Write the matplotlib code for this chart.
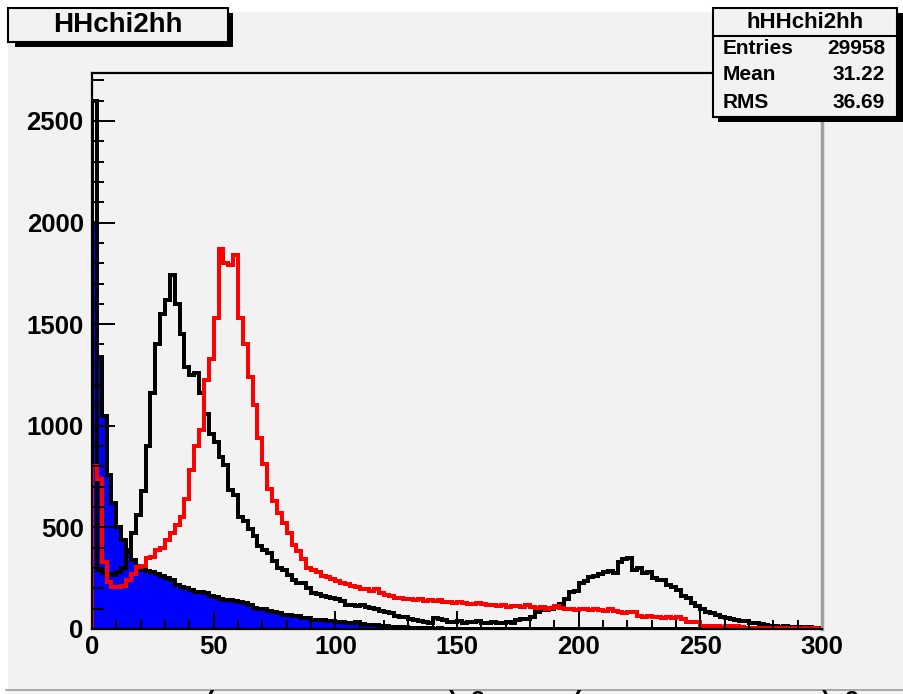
import numpy as np
import matplotlib.pyplot as plt
from matplotlib.patches import Rectangle
from matplotlib.lines import Line2D
from matplotlib.ticker import MultipleLocator

plt.rcParams['font.family'] = ['Liberation Sans', 'DejaVu Sans']
plt.rcParams['font.weight'] = 'bold'

# chi2 histograms, 2-unit bins from 0 to 300
bin_edges = np.arange(0, 301, 2)

hh_blue = [
    2000, 1340, 1050, 760, 620, 500, 440, 380, 340, 310,
    290, 285, 280, 270, 260, 250, 240, 215, 205, 200,
    190, 182, 180, 175, 160, 158, 150, 145, 142, 140,
    135, 128, 120, 105, 100, 100, 88, 84, 80, 70,
    68, 65, 62, 55, 52, 45, 45, 42, 40, 38,
    35, 35, 30, 28, 32, 25, 22, 20, 18, 15,
    14, 12, 10, 8, 10, 6, 5, 4, 5, 3,
    2, 3, 2, 1, 1, 0, 1, 0, 0, 0,
    0, 0, 1, 0, 0, 0, 0, 0, 0, 0,
    0, 0, 0, 0, 0, 0, 0, 0, 0, 0,
    0, 0, 0, 0, 0, 0, 0, 0, 0, 0,
    0, 0, 0, 0, 0, 0, 0, 0, 0, 0,
    0, 0, 0, 0, 0, 0, 0, 0, 0, 0,
    0, 0, 0, 0, 0, 0, 0, 0, 0, 0,
    0, 0, 0, 0, 0, 0, 0, 0, 0, 0,
]

hh_black = [
    2600, 290, 275, 270, 265, 280, 300, 390, 470, 560,
    680, 900, 1160, 1400, 1550, 1620, 1740, 1600, 1450, 1290,
    1250, 1260, 1160, 1060, 960, 920, 846, 807, 684, 660,
    551, 530, 490, 460, 410, 389, 375, 335, 300, 290,
    265, 240, 226, 224, 200, 177, 170, 160, 157, 155,
    150, 140, 120, 118, 115, 118, 110, 103, 100, 88,
    84, 80, 62, 60, 58, 50, 45, 38, 32, 30,
    55, 50, 45, 35, 32, 38, 30, 35, 32, 40,
    30, 28, 35, 30, 30, 32, 28, 45, 50, 48,
    60, 82, 92, 95, 100, 110, 125, 150, 180, 185,
    225, 235, 255, 260, 270, 280, 285, 275, 330, 345,
    350, 290, 300, 275, 280, 250, 240, 240, 215, 205,
    190, 160, 155, 130, 115, 100, 85, 80, 70, 60,
    55, 50, 45, 40, 38, 30, 28, 25, 20, 15,
    15, 12, 15, 10, 12, 8, 5, 8, 4, 5,
]

hh_red = [
    800, 740, 330, 230, 205, 205, 210, 240, 270, 305,
    310, 350, 355, 390, 400, 440, 470, 510, 550, 640,
    780, 900, 980, 1225, 1330, 1530, 1870, 1800, 1790, 1840,
    1530, 1400, 1240, 1100, 940, 810, 690, 630, 570, 520,
    470, 415, 385, 345, 300, 290, 280, 262, 255, 245,
    235, 228, 220, 210, 205, 198, 195, 185, 195, 175,
    165, 160, 155, 152, 150, 148, 145, 150, 140, 143,
    138, 145, 135, 132, 130, 133, 128, 125, 122, 128,
    125, 120, 118, 115, 118, 110, 112, 115, 108, 120,
    110, 105, 108, 100, 105, 112, 102, 98, 100, 95,
    100, 98, 92, 100, 95, 90, 96, 88, 84, 80,
    82, 84, 62, 60, 62, 58, 60, 56, 60, 55,
    58, 50, 35, 33, 32, 15, 15, 14, 15, 12,
    14, 12, 15, 12, 5, 5, 4, 5, 6, 4,
    3, 4, 3, 2, 3, 2, 3, 2, 4, 2,
]

stats_rows = [("Entries", "29958"), ("Mean", "31.22"), ("RMS", "36.69")]

W, H = 904, 694
fig = plt.figure(figsize=(W / 100, H / 100), dpi=100, facecolor='white')


def fx(px):
    return px / W


def fy(py):
    return 1 - py / H


def box(x0, y0, x1, y1, **kw):
    r = Rectangle((fx(x0), fy(y1)), fx(x1) - fx(x0), fy(y0) - fy(y1),
                  transform=fig.transFigure, **kw)
    fig.add_artist(r)
    return r


# grey canvas
box(8, 12, 904, 694, facecolor='#f2f2f2', edgecolor='none', zorder=-5)

ax = fig.add_axes([fx(92), fy(629), fx(822) - fx(92), fy(73) - fy(629)])
ax.set_facecolor('#f2f2f2')

ax.stairs(hh_blue, bin_edges, fill=True, color='#0000ff', lw=0)
ax.stairs(hh_blue, bin_edges, color='black', lw=1.7, antialiased=False)
ax.stairs(hh_black, bin_edges, color='black', lw=1.7, antialiased=False)
ax.stairs(hh_red, bin_edges, color='#ff0000', lw=1.7, antialiased=False)

ax.set_xlim(0, 300)
ax.set_ylim(0, 2736)

ax.xaxis.set_major_locator(MultipleLocator(50))
ax.xaxis.set_minor_locator(MultipleLocator(10))
ax.yaxis.set_major_locator(MultipleLocator(500))
ax.yaxis.set_minor_locator(MultipleLocator(100))

ax.tick_params(which='both', direction='in', width=1.4, colors='black',
               top=False, right=False, labelsize=18.5)
ax.tick_params(axis='x', which='major', length=13, pad=4)
ax.tick_params(axis='x', which='minor', length=6.5)
ax.tick_params(axis='y', which='major', length=16.5, pad=6)
ax.tick_params(axis='y', which='minor', length=8.5)
for lab in ax.get_xticklabels() + ax.get_yticklabels():
    lab.set_fontweight('bold')

for side in ['top', 'left', 'bottom']:
    ax.spines[side].set_color('black')
    ax.spines[side].set_linewidth(1.6)
ax.spines['right'].set_color('#a0a0a0')
ax.spines['right'].set_linewidth(2.5)

# title box with shadow
box(15, 13, 233, 47, facecolor='black', edgecolor='none', zorder=5)
box(8, 8, 228, 42, facecolor='#f2f2f2', edgecolor='black', lw=1.5, zorder=6)
fig.text(fx(118), fy(25), "HHchi2hh", ha='center', va='center',
         fontsize=20, fontweight='bold', zorder=7)

# stats box with shadow
box(718, 13, 903, 122, facecolor='black', edgecolor='none', zorder=5)
box(713, 8, 897, 117, facecolor='#f2f2f2', edgecolor='black', lw=1.5, zorder=6)
fig.add_artist(Line2D([fx(713), fx(897)], [fy(36), fy(36)], color='black',
                      lw=1.5, transform=fig.transFigure, zorder=7))
fig.text(fx(805), fy(22), "hHHchi2hh", ha='center', va='center',
         fontsize=16, fontweight='bold', zorder=7)
for i, (name, val) in enumerate(stats_rows):
    yy = 48 + 27 * i
    fig.text(fx(723), fy(yy), name, ha='left', va='center',
             fontsize=15, fontweight='bold', zorder=7)
    fig.text(fx(885), fy(yy), val, ha='right', va='center',
             fontsize=15, fontweight='bold', zorder=7)

# x-axis title, running off the bottom edge
fig.add_artist(Line2D([fx(6), fx(904)], [fy(689.5), fy(689.5)], color='#9a9a9a',
                      lw=1.2, transform=fig.transFigure, zorder=-4))
for xp, s in [(210, "("), (453, ")"), (477, "2"), (577, "("), (826, ")"), (851, "2")]:
    fig.text(fx(xp), fy(690), s, ha='center', va='top', fontsize=18,
             fontweight='bold')

fig.savefig("out.png", dpi=100, facecolor=fig.get_facecolor())
